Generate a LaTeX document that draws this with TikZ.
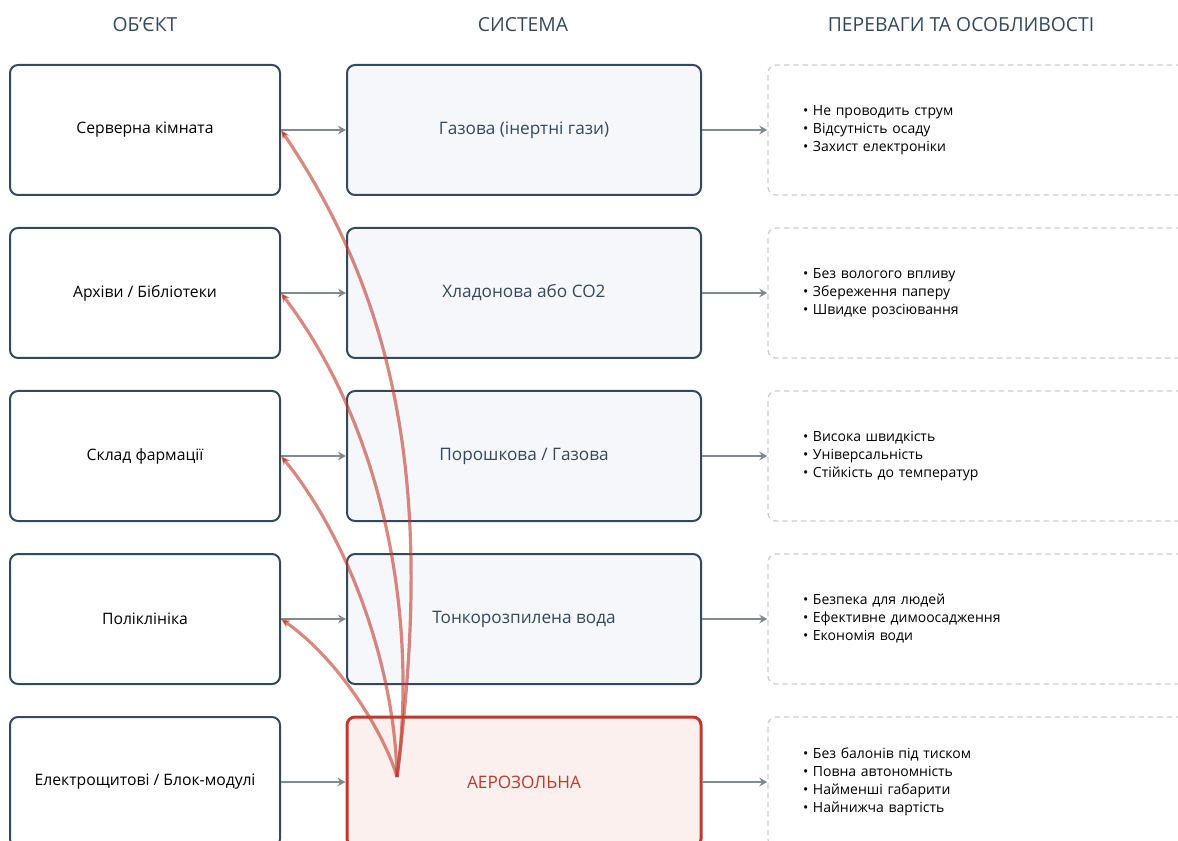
\documentclass[tikz,border=0pt]{standalone}
\usepackage{fontspec}
\setmainfont{Open Sans}
\usetikzlibrary{arrows.meta}
\definecolor{slate}{HTML}{34495E}
\definecolor{arrowgray}{HTML}{7F8C8D}
\definecolor{dashgray}{HTML}{CCCCCC}
\definecolor{sysfill}{HTML}{F5F7FA}
\definecolor{aerored}{HTML}{C0392B}
\definecolor{aerofill}{HTML}{FCF0EF}
\tikzset{
  head/.style={text=slate, font=\fontsize{14.5}{17}\selectfont},
  objbox/.style={draw=slate, line width=1.5pt, rounded corners=6pt, fill=white,
    minimum width=202.5pt, minimum height=97.5pt, font=\fontsize{11.8}{14}\selectfont},
  sysbox/.style={draw=slate, line width=1.5pt, rounded corners=6pt, fill=sysfill,
    minimum width=265.5pt, minimum height=97.5pt, text=slate, font=\fontsize{12.9}{15}\selectfont},
  aerobox/.style={sysbox, draw=aerored, line width=2.25pt, fill=aerofill, text=aerored},
  benbox/.style={draw=dashgray, line width=1pt, dash pattern=on 4pt off 3pt, rounded corners=6pt,
    minimum height=97.5pt, inner xsep=26.25pt, text width=277.5pt, align=left,
    font=\fontsize{10.5}{13.5}\selectfont},
  flow/.style={draw=arrowgray, line width=1.8pt, -{Stealth[length=6pt,width=6.5pt]}},
  hint/.style={draw=aerored, draw opacity=0.6, line width=2.4pt, -{Stealth[length=7pt,width=6pt]}}
}
\begin{document}
\begin{tikzpicture}[x=0.75pt,y=-0.75pt]
\useasboundingbox (0,0) rectangle (1178,841);

% headings
\node[head] (h1) at (145,25) {ОБ'ЄКТ};
\node[head] (h2) at (523,25) {СИСТЕМА};
\node[head] (h3) at (961,25) {ПЕРЕВАГИ ТА ОСОБЛИВОСТІ};

% objects
\node[objbox] (obj1) at (145,130) {Серверна кімната};
\node[objbox] (obj2) at (145,293) {Архіви / Бібліотеки};
\node[objbox] (obj3) at (145,456) {Склад фармації};
\node[objbox] (obj4) at (145,619) {Поліклініка};
\node[objbox] (obj5) at (145,782) {Електрощитові / Блок-модулі};

% systems
\node[sysbox] (sys1) at (524,130) {Газова (інертні гази)};
\node[sysbox] (sys2) at (524,293) {Хладонова або CO2};
\node[sysbox] (sys3) at (524,456) {Порошкова / Газова};
\node[sysbox] (sys4) at (524,619) {Тонкорозпилена вода};
\node[aerobox] (sys5) at (524,782) {АЕРОЗОЛЬНА};

% benefits
\node[benbox] (ben1) at (988,130) {• Не проводить струм\\• Відсутність осаду\\• Захист електроніки};
\node[benbox] (ben2) at (988,293) {• Без вологого впливу\\• Збереження паперу\\• Швидке розсіювання};
\node[benbox] (ben3) at (988,456) {• Висока швидкість\\• Універсальність\\• Стійкість до температур};
\node[benbox] (ben4) at (988,619) {• Безпека для людей\\• Ефективне димоосадження\\• Економія води};
\node[benbox] (ben5) at (988,782) {• Без балонів під тиском\\• Повна автономність\\• Найменші габарити\\• Найнижча вартість};

% flow arrows
\foreach \i in {1,...,5} {
  \draw[flow] (obj\i.east) -- (sys\i.west);
  \draw[flow] (sys\i.east) -- (ben\i.west);
}

% aerosol fits every object
\coordinate (src) at (397,777);
\draw[hint] (src) .. controls (430,520) and (410,320) .. (obj1.east);
\draw[hint] (src) .. controls (418,620) and (385,430) .. (obj2.east);
\draw[hint] (src) .. controls (395,670) and (350,540) .. (obj3.east);
\draw[hint] (src) .. controls (385,735) and (340,660) .. (obj4.east);
\end{tikzpicture}
\end{document}
